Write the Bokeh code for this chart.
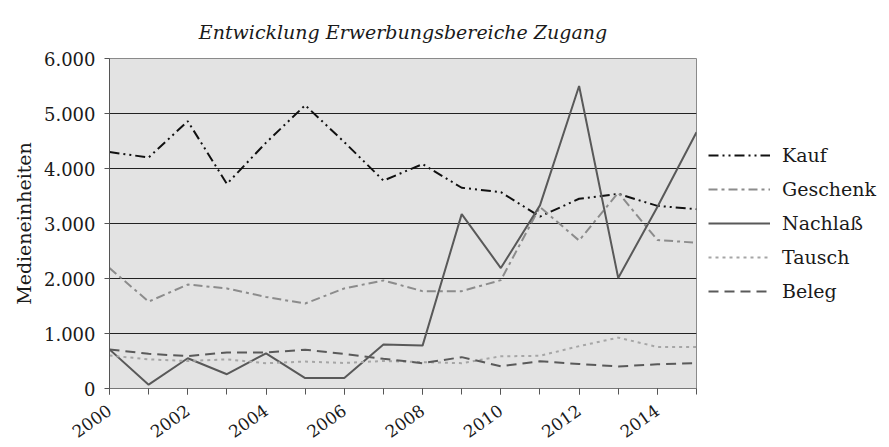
import math
from bokeh.plotting import figure
from bokeh.models import FixedTicker, Legend, LegendItem, Range1d
from bokeh.embed import file_html
from bokeh.resources import INLINE

# ---- data ----
years = list(range(2000, 2016))
kauf = [4300, 4200, 4860, 3720, 4470, 5150, 4480, 3780, 4080, 3650, 3570, 3125, 3450, 3540, 3320, 3260]
geschenk = [2190, 1580, 1890, 1820, 1665, 1545, 1820, 1965, 1770, 1770, 1970, 3300, 2690, 3560, 2700, 2650]
nachlass = [710, 70, 550, 260, 640, 190, 190, 800, 780, 3170, 2190, 3330, 5500, 2010, 3300, 4660]
tausch = [600, 530, 500, 530, 460, 490, 465, 500, 480, 460, 585, 595, 770, 925, 755, 755]
beleg = [710, 630, 590, 655, 655, 705, 630, 540, 460, 570, 405, 495, 445, 400, 440, 460]

series_names = ["Kauf", "Geschenk", "Nachlaß", "Tausch", "Beleg"]
x_label_years = [2000, 2002, 2004, 2006, 2008, 2010, 2012, 2014]
y_ticks = [0, 1000, 2000, 3000, 4000, 5000, 6000]
y_tick_labels = ["0", "1.000", "2.000", "3.000", "4.000", "5.000", "6.000"]

title_text = "Entwicklung Erwerbungsbereiche Zugang"
y_title = "Medieneinheiten"

FONT = "DejaVu Serif"

p = figure(frame_width=587, frame_height=330, output_backend="svg", toolbar_location=None,
           x_range=Range1d(2000, 2015), y_range=Range1d(0, 6000),
           min_border_left=109, min_border_right=180, min_border_top=58, min_border_bottom=59,
           background_fill_color="white", border_fill_color="white")

p.title.text = title_text
p.title.text_font = FONT
p.title.text_font_style = "italic"
p.title.text_font_size = "19px"
p.title.text_color = "#1a1a1a"
p.title.align = "center"
p.title.standoff = 31

p.background_fill_color = "#e3e3e3"
p.outline_line_color = "#8a8a8a"
p.outline_line_width = 1

# grid
p.xgrid.visible = False
p.ygrid.grid_line_color = "#222222"
p.ygrid.grid_line_width = 1

# x axis
xa = p.xaxis[0]
xa.ticker = FixedTicker(ticks=x_label_years, minor_ticks=years)
xa.major_label_overrides = {y: str(y) for y in x_label_years}
xa.major_label_orientation = 0.62
xa.major_label_text_font = FONT
xa.major_label_text_font_size = "17px"
xa.major_label_text_color = "#1a1a1a"
xa.major_label_standoff = 14
xa.axis_line_color = "#777777"
xa.major_tick_line_color = "#555555"
xa.minor_tick_line_color = "#555555"
xa.major_tick_in = 0
xa.major_tick_out = 6
xa.minor_tick_in = 0
xa.minor_tick_out = 6

# y axis
ya = p.yaxis[0]
ya.ticker = FixedTicker(ticks=y_ticks, minor_ticks=[])
ya.major_label_overrides = {t: l for t, l in zip(y_ticks, y_tick_labels)}
ya.major_label_text_font = FONT
ya.major_label_text_font_size = "18px"
ya.major_label_text_color = "#1a1a1a"
ya.major_label_standoff = 9
ya.axis_line_color = "#555555"
ya.major_tick_line_color = "#555555"
ya.major_tick_in = 0
ya.major_tick_out = 5
ya.axis_label = y_title
ya.axis_label_text_font = FONT
ya.axis_label_text_font_style = "normal"
ya.axis_label_text_font_size = "19px"
ya.axis_label_text_color = "#1a1a1a"
ya.axis_label_standoff = 6

styles = [
    (kauf, "#111111", "10 4 2 4 2 4", 2),
    (geschenk, "#8c8c8c", "9 4 3 4", 2),
    (nachlass, "#595959", "solid", 2),
    (tausch, "#a6a6a6", "3 4", 2),
    (beleg, "#5a5a5a", "10 6", 2),
]

items = []
for name, (vals, color, dash, w) in zip(series_names, styles):
    r = p.line(years, vals, line_color=color, line_dash=dash, line_width=w)
    items.append(LegendItem(label=name, renderers=[r]))

legend = Legend(items=items, location="center_left")
legend.label_text_font = FONT
legend.label_text_font_size = "19px"
legend.label_text_color = "#1a1a1a"
legend.glyph_width = 62
legend.glyph_height = 20
legend.label_height = 20
legend.spacing = 12
legend.padding = 0
legend.margin = 12
legend.label_standoff = 12
legend.border_line_color = None
legend.background_fill_color = "white"
legend.background_fill_alpha = 1
p.add_layout(legend, "right")

open("out.html", "w").write(file_html(p, INLINE))
